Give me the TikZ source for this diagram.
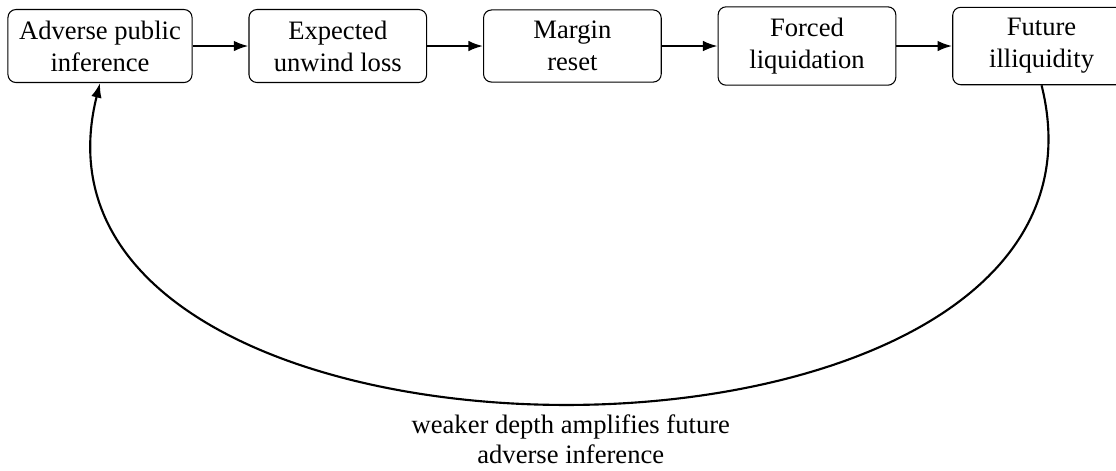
\documentclass[tikz,border=0pt]{standalone}
\usepackage{fontspec}
\setmainfont{Liberation Serif}
\usetikzlibrary{positioning,arrows.meta}
\tikzset{
blk/.style={draw,rounded corners=3pt,align=center,inner sep=4.2pt,minimum width=66.8pt},
link/.style={thick,-{Latex[length=5.5pt,width=4pt]}}
}
\begin{document}
\begin{tikzpicture}[node distance=21pt]
\useasboundingbox (0,0) rectangle (419.6pt,-176.8pt);
%boxes
\node[blk] (inf) at (37.6pt,-17.3pt) {Adverse public\\inference};
\node[blk,right=of inf] (loss) {Expected\\unwind loss};
\node[blk,right=of loss] (margin) {Margin\\reset};
\node[blk,right=of margin] (forced) {Forced\\liquidation};
\node[blk,right=of forced] (illiq) {Future\\illiquidity};
%arrows
\draw[link] (inf)--(loss);
\draw[link] (loss)--(margin);
\draw[link] (margin)--(forced);
\draw[link] (forced)--(illiq);
%feedback loop
\draw[link] (illiq.south) .. controls +(40pt,-160pt) and +(-40pt,-160pt) .. (inf.south)
node[pos=0.5,below=1.5pt,align=center,inner sep=2.5pt]{weaker depth amplifies future\\[-0.7pt]adverse inference};
\end{tikzpicture}
\end{document}
